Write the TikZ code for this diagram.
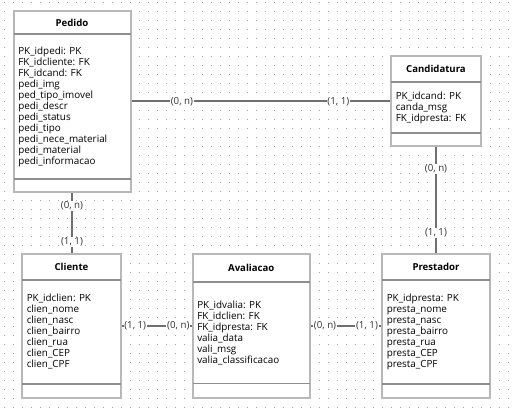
\documentclass[tikz,border=0pt]{standalone}
\usepackage{fontspec}
\setmainfont{Open Sans}
\usetikzlibrary{fit}
\definecolor{boxline}{HTML}{B8B8B8}
\definecolor{sepline}{HTML}{8E8E8E}
\definecolor{conline}{HTML}{707070}
\definecolor{griddot}{HTML}{A8A8A8}
\tikzset{
  ebox/.style={draw=boxline, line width=1.5pt, fill=white, inner sep=0pt},
  esep/.style={draw=sepline, line width=1.1pt},
  etitle/.style={font=\bfseries\fontsize{7.2}{8}\selectfont, inner sep=0pt, text=black},
  eattr/.style={font=\fontsize{7.4}{8.25}\selectfont, align=left, inner sep=0pt, anchor=west, text=black},
  conn/.style={draw=conline, line width=1.5pt},
  card/.style={font=\fontsize{7.3}{8}\selectfont, fill=white, inner sep=0.6pt, text=black!80},
}
\newcommand\erent[9]{%
  \node[ebox, fit={(#2,#3) (#4,#5)}] (#1) {};
  \draw[esep] (#2,#6) -- (#4,#6);
  \draw[esep] (#2,#7) -- (#4,#7);
  \node[etitle] (#1-title) at ({(#2+#4)/2},{(#3+#6)/2}) {#8};
  \node[eattr] (#1-attrs) at ({#2+4.5},{(#6+#7)/2}) {#9};
}
\begin{document}
\begin{tikzpicture}[x=0.75pt,y=-0.75pt]
\useasboundingbox (0,0) rectangle (514,410);
\fill[white] (0,0) rectangle (514,410);
\foreach \i in {0,...,56}{
  \foreach \j in {0,...,45}{
    \fill[griddot] ({4.3+9*\i-0.5},{2.3+9*\j-0.5}) rectangle +(1,1);
  }
}
\erent{pedido}{13.5}{11}{130.5}{192}{34}{179}{Pedido}{PK\_idpedi: PK\\FK\_idcliente: FK\\FK\_idcand: FK\\pedi\_img\\ped\_tipo\_imovel\\pedi\_descr\\pedi\_status\\pedi\_tipo\\pedi\_nece\_material\\pedi\_material\\pedi\_informacao}
\erent{cand}{391}{56}{481}{146}{82}{133}{Candidatura}{PK\_idcand: PK\\canda\_msg\\FK\_idpresta: FK}
\erent{cliente}{22}{254}{121}{398}{280}{384}{Cliente}{PK\_idclien: PK\\clien\_nome\\clien\_nasc\\clien\_bairro\\clien\_rua\\clien\_CEP\\clien\_CPF}
\erent{aval}{192.5}{254}{310}{397.5}{282}{383.5}{Avaliacao}{PK\_idvalia: PK\\FK\_idclien: FK\\FK\_idpresta: FK\\valia\_data\\vali\_msg\\valia\_classificacao}
\erent{prest}{382}{254}{490}{398}{280}{384}{Prestador}{PK\_idpresta: PK\\presta\_nome\\presta\_nasc\\presta\_bairro\\presta\_rua\\presta\_CEP\\presta\_CPF}

\draw[conn] (pedido.east) -- (pedido.east -| cand.west)
  node[card, pos=0.195] (c1a) {(0, n)}
  node[card, pos=0.80] (c1b) {(1, 1)};
\draw[conn] (pedido.south) -- (pedido.south |- cliente.north)
  node[card, pos=0.21] (c2a) {(0, n)}
  node[card, pos=0.81] (c2b) {(1, 1)};
\draw[conn] (cand.south) -- (cand.south |- prest.north)
  node[card, pos=0.206] (c3a) {(0, n)}
  node[card, pos=0.81] (c3b) {(1, 1)};
\draw[conn] (cliente.east) -- (cliente.east -| aval.west)
  node[card, pos=0.19] (c4a) {(1, 1)}
  node[card, pos=0.81] (c4b) {(0, n)};
\draw[conn] (aval.east) -- (aval.east -| prest.west)
  node[card, pos=0.2] (c5a) {(0, n)}
  node[card, pos=0.80] (c5b) {(1, 1)};
\end{tikzpicture}
\end{document}
